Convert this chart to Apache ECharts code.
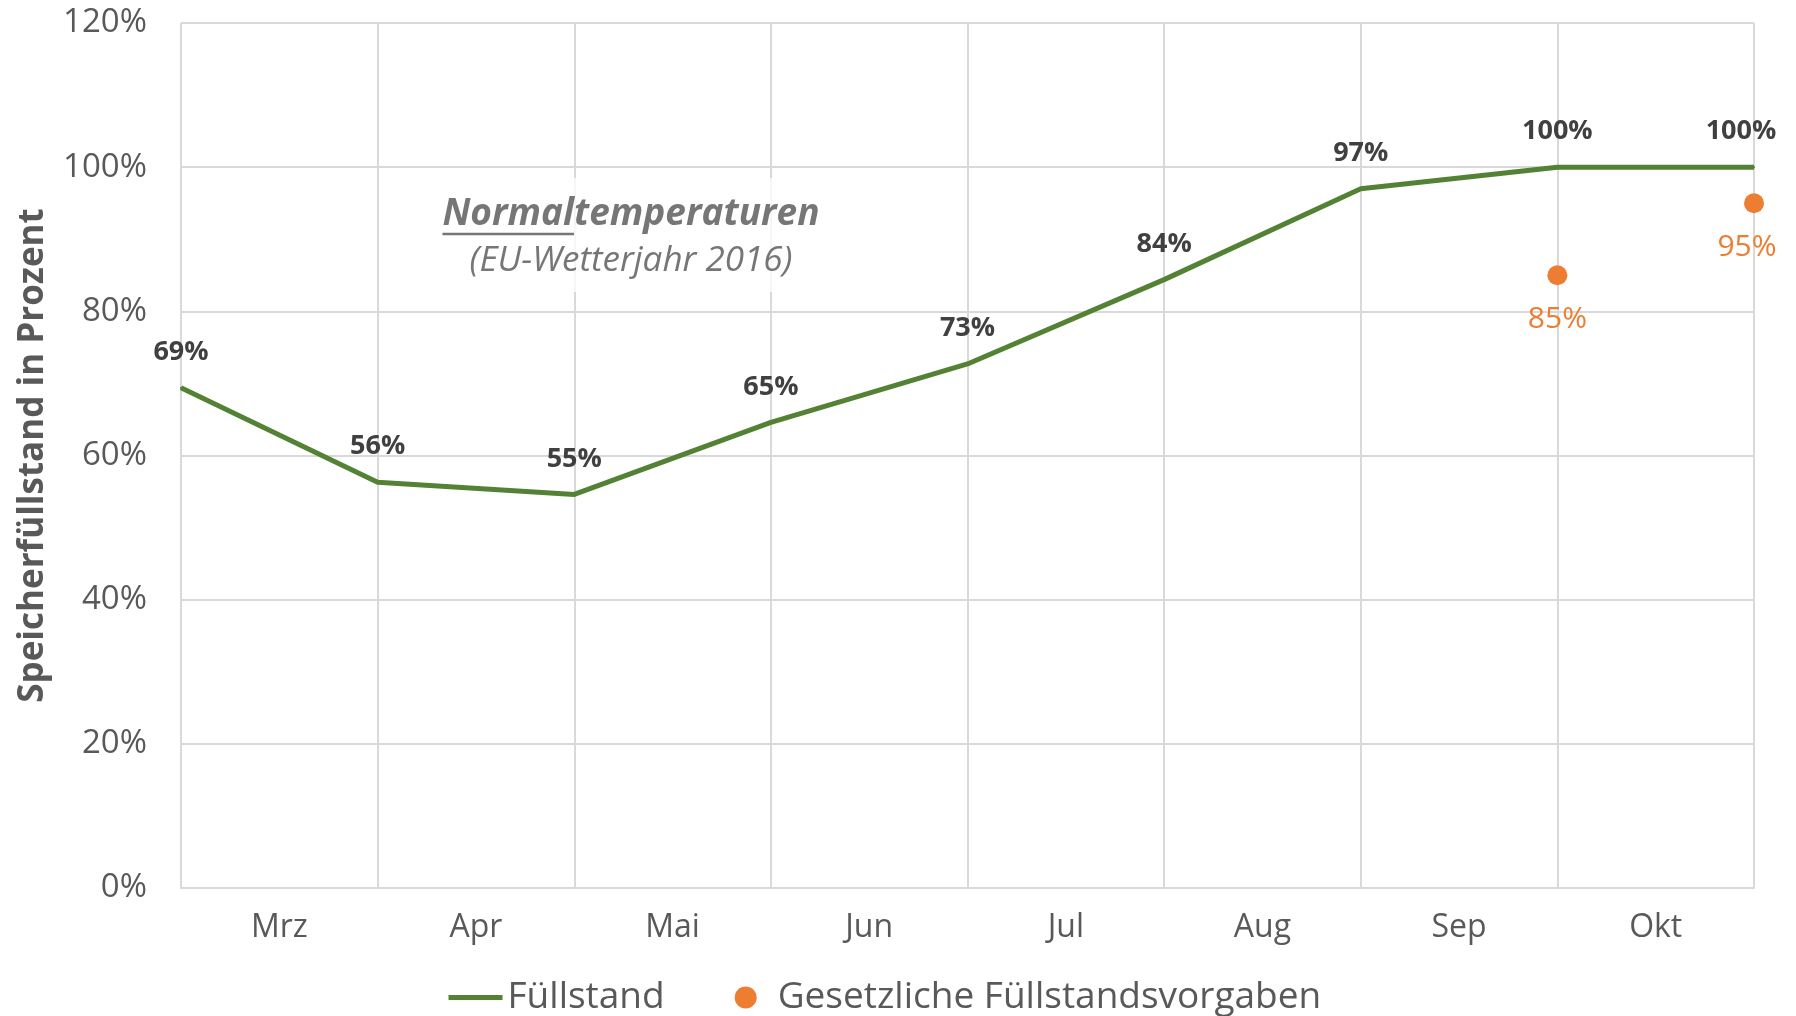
<!DOCTYPE html>
<html>
<head>
<meta charset="utf-8">
<script src="https://cdn.jsdelivr.net/npm/echarts@6/dist/echarts.min.js"></script>
<style>
  html, body { margin: 0; padding: 0; background: #fff; }
  #chart { width: 1796px; height: 1016px; }
</style>
</head>
<body>
<div id="chart"></div>
<script>
// Monate (Beschriftung zwischen den Gitterlinien)
const months = ["Mrz", "Apr", "Mai", "Jun", "Jul", "Aug", "Sep", "Okt"];
// Füllstand jeweils zum Monatsanfang (Mrz .. Nov)
const fillLevel = [69.4, 56.3, 54.6, 64.6, 72.7, 84.4, 97.0, 100, 100];
// Gesetzliche Vorgaben (1. Okt, 1. Nov)
const targetIdx = [7, 8];
const targetValues = [85, 95];
const yTicks = [0, 20, 40, 60, 80, 100, 120];

const FONT = "Open Sans";
const GRID_COLOR = "#d9d9d9";

const chart = echarts.init(document.getElementById("chart"));

// Unterstreichung von "Normal" berechnen
const ctx = document.createElement("canvas").getContext("2d");
const annFont = "italic bold 37px '" + FONT + "'";
ctx.font = annFont;
const wFull = ctx.measureText("Normaltemperaturen").width;
const wNormal = ctx.measureText("Normal").width;
const annX = 631;
const ulStart = annX - wFull / 2;

const option = {
  animation: false,
  grid: { left: 181, right: 42, top: 23, bottom: 128, outerBoundsMode: "none" },
  xAxis: [
    {
      type: "category",
      data: months,
      boundaryGap: true,
      axisLine: { show: true, lineStyle: { color: GRID_COLOR, width: 2 } },
      axisTick: { show: false },
      splitLine: { show: false },
      axisLabel: { color: "#595959", fontSize: 32, fontFamily: FONT, margin: 24 },
    },
    {
      type: "value",
      min: 0,
      max: months.length,
      interval: 1,
      show: true,
      position: "bottom",
      axisLine: { show: false },
      axisTick: { show: false },
      axisLabel: { show: false },
      splitLine: { show: true, lineStyle: { color: GRID_COLOR, width: 2 } },
    },
  ],
  yAxis: {
    type: "value",
    min: yTicks[0],
    max: yTicks[yTicks.length - 1],
    interval: 20,
    axisLine: { show: false },
    axisTick: { show: false },
    axisLabel: {
      color: "#595959",
      fontSize: 33,
      fontFamily: FONT,
      margin: 34,
      formatter: "{value}%",
    },
    splitLine: { lineStyle: { color: GRID_COLOR, width: 2 } },
    name: "Speicherfüllstand in Prozent",
    nameLocation: "middle",
    nameGap: 130,
    nameTextStyle: { color: "#595959", fontSize: 35, fontWeight: "bold", fontFamily: FONT },
  },
  legend: {
    bottom: -5,
    left: 441,
    itemWidth: 54,
    itemHeight: 22,
    itemGap: 70,
    textStyle: { color: "#595959", fontSize: 37, fontFamily: FONT },
    data: [
      { name: "Füllstand", itemStyle: { opacity: 0 }, lineStyle: { width: 5 } },
      { name: "Gesetzliche Füllstandsvorgaben", icon: "circle", itemStyle: { opacity: 1 } },
    ],
  },
  graphic: [
    {
      type: "rect",
      shape: { x: 430, y: 178, width: 405, height: 114 },
      style: { fill: "rgba(255,255,255,0.75)" },
      z: 1,
    },
    {
      type: "text",
      x: annX,
      y: 214,
      z: 10,
      style: {
        text: "Normaltemperaturen",
        font: annFont,
        fill: "#767676",
        align: "center",
        verticalAlign: "middle",
      },
    },
    {
      type: "line",
      z: 10,
      shape: { x1: ulStart, y1: 234, x2: ulStart + wNormal, y2: 234 },
      style: { stroke: "#767676", lineWidth: 2.5 },
    },
    {
      type: "text",
      x: annX,
      y: 261,
      z: 10,
      style: {
        text: "(EU-Wetterjahr 2016)",
        font: "italic 35px '" + FONT + "'",
        fill: "#767676",
        align: "center",
        verticalAlign: "middle",
      },
    },
  ],
  series: [
    {
      name: "Füllstand",
      type: "line",
      xAxisIndex: 1,
      data: fillLevel.map((v, i) => [i, v]),
      symbol: "circle",
      symbolSize: 2,
      showSymbol: true,
      lineStyle: { color: "#548235", width: 5 },
      itemStyle: { color: "#548235" },
      z: 5,
      label: {
        show: true,
        position: "top",
        distance: 21,
        color: "#404040",
        fontSize: 27,
        fontWeight: "bold",
        fontFamily: FONT,
        formatter: (p) => Math.round(p.value[1]) + "%",
      },
      labelLayout: (params) => (params.dataIndex === fillLevel.length - 1 ? { dx: -13 } : {}),
    },
    {
      name: "Gesetzliche Füllstandsvorgaben",
      type: "scatter",
      xAxisIndex: 1,
      data: targetValues.map((v, i) => [targetIdx[i], v]),
      symbol: "circle",
      symbolSize: 20,
      itemStyle: { color: "#ED7D31", opacity: 1 },
      z: 6,
      label: {
        show: true,
        position: "bottom",
        distance: 19,
        color: "#ED7D31",
        fontSize: 30,
        fontFamily: FONT,
        formatter: (p) => p.value[1] + "%",
      },
      labelLayout: (params) => (params.dataIndex === targetValues.length - 1 ? { dx: -7 } : {}),
    },
  ],
};

chart.setOption(option);
</script>
</body>
</html>
